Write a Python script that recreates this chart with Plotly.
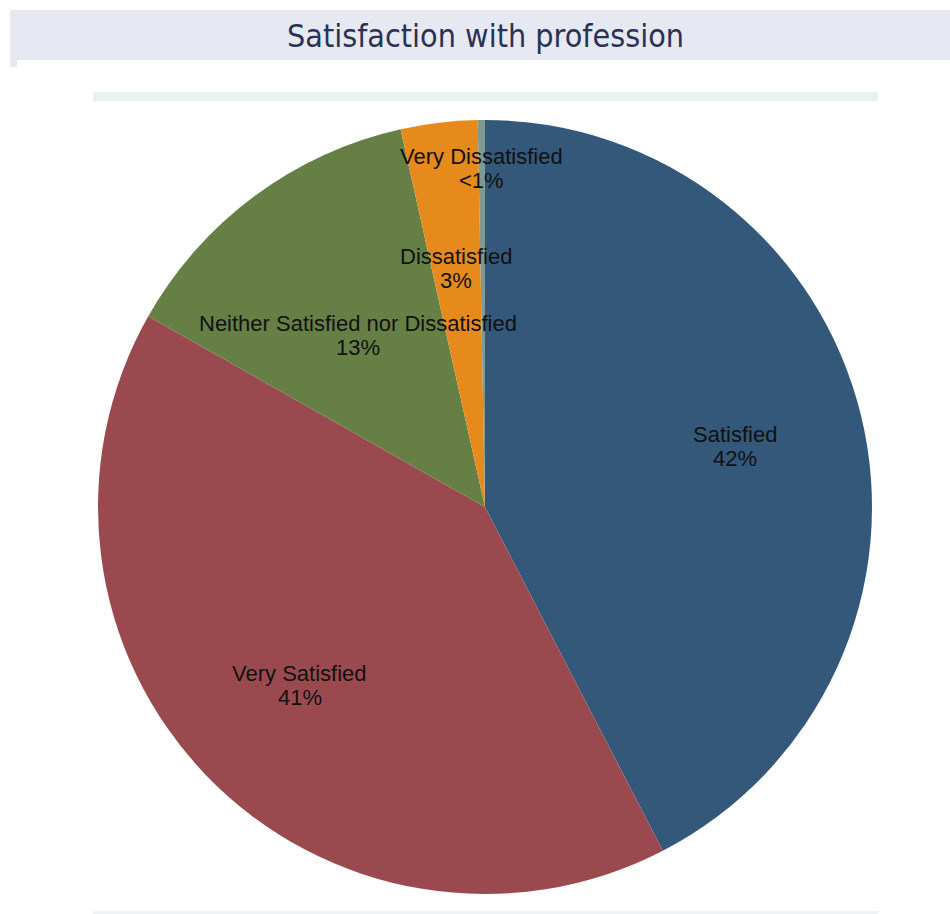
import math
import plotly.graph_objects as go

# Data
categories = ["Satisfied", "Very Satisfied", "Neither Satisfied nor Dissatisfied",
              "Dissatisfied", "Very Dissatisfied"]
values = [42.4, 40.8, 13.3, 3.2, 0.3]
pct_labels = ["42%", "41%", "13%", "3%", "<1%"]

# Styles
colors = ["#33587a", "#9a4a4f", "#667f45", "#e68a1c", "#7f9a95"]
label_radius = [0.664, 0.664, 0.552, 0.62, 0.876]

W, H = 950, 914
CX, CY, R = 485, 507, 387

fig = go.Figure(go.Pie(
    labels=categories, values=values, sort=False, direction="clockwise",
    rotation=0, marker=dict(colors=colors, line=dict(width=0)),
    textinfo="none", hoverinfo="label+percent", showlegend=False,
    domain=dict(x=[(CX - R) / W, (CX + R) / W], y=[1 - (CY + R) / H, 1 - (CY - R) / H]),
))

annotations = []
total = sum(values)
cum = 0.0
for cat, v, p, rf in zip(categories, values, pct_labels, label_radius):
    mid = (cum + v / 2) / total * 2 * math.pi
    cum += v
    px = CX + rf * R * math.sin(mid)
    py = CY - rf * R * math.cos(mid)
    for txt, off in ((cat, -12), (p, 12)):
        annotations.append(dict(
            x=px / W, y=1 - (py + off) / H, xref="paper", yref="paper",
            text=txt, showarrow=False, xanchor="center", yanchor="middle",
            font=dict(family="Liberation Sans, Arial, sans-serif", size=22, color="#111111"),
        ))

annotations.append(dict(
    x=485 / W, y=1 - 36 / H, xref="paper", yref="paper",
    text="Satisfaction with profession", showarrow=False,
    xanchor="center", yanchor="middle",
    font=dict(family="DejaVu Sans Condensed, Liberation Sans Narrow, sans-serif", size=32, color="#2a3255"),
))

shapes = [
    dict(type="rect", xref="paper", yref="paper", x0=10 / W, x1=1, y0=1 - 60 / H, y1=1 - 10 / H,
         fillcolor="#e6e9f2", line=dict(width=0), layer="below"),
    dict(type="rect", xref="paper", yref="paper", x0=10 / W, x1=17 / W, y0=1 - 67 / H, y1=1 - 60 / H,
         fillcolor="#e6e9f2", line=dict(width=0), layer="below"),
    dict(type="rect", xref="paper", yref="paper", x0=93 / W, x1=878 / W, y0=1 - 101 / H, y1=1 - 92 / H,
         fillcolor="#e8f0f0", line=dict(width=0), layer="below"),
    dict(type="rect", xref="paper", yref="paper", x0=93 / W, x1=878 / W, y0=0, y1=3 / H,
         fillcolor="#eef2f2", line=dict(width=0), layer="below"),
]

fig.update_layout(
    width=W, height=H, margin=dict(l=0, r=0, t=0, b=0),
    paper_bgcolor="white", plot_bgcolor="white",
    annotations=annotations, shapes=shapes,
)

fig.write_html("out.html", config={"displayModeBar": False},
               post_script="document.body.style.margin='0px';document.body.style.overflow='hidden';")
